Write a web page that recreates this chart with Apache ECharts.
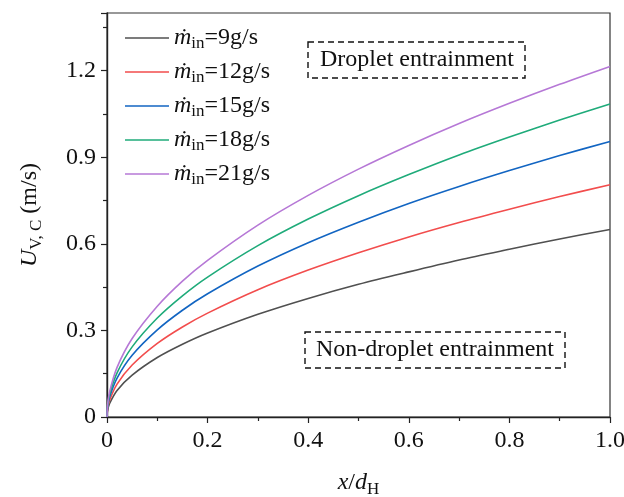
<!DOCTYPE html>
<html>
<head>
<meta charset="utf-8">
<script src="https://cdn.jsdelivr.net/npm/echarts@6/dist/echarts.min.js"></script>
<style>
  html, body { margin: 0; padding: 0; background: #fff; }
  #box_chart { width: 624px; height: 497px; }
</style>
</head>
<body>
<div id="box_chart"></div>
<script>
// x/dH sample points
var xs = [0, 0.001, 0.005, 0.02, 0.05, 0.1, 0.15, 0.2, 0.3, 0.4, 0.5, 0.6, 0.7, 0.8, 0.9, 1.0];
var flowNames = ['9', '12', '15', '18', '21'];
var u9  = [0, 0.021, 0.046, 0.092, 0.145, 0.206, 0.252, 0.291, 0.356, 0.411, 0.460, 0.503, 0.544, 0.581, 0.617, 0.650];
var u12 = [0, 0.025, 0.057, 0.114, 0.180, 0.255, 0.312, 0.360, 0.441, 0.509, 0.569, 0.624, 0.674, 0.720, 0.764, 0.805];
var u15 = [0, 0.030, 0.068, 0.135, 0.214, 0.302, 0.370, 0.427, 0.523, 0.604, 0.675, 0.740, 0.799, 0.854, 0.906, 0.955];
var u18 = [0, 0.034, 0.077, 0.153, 0.243, 0.343, 0.420, 0.485, 0.594, 0.686, 0.767, 0.840, 0.908, 0.970, 1.029, 1.085];
var u21 = [0, 0.038, 0.086, 0.172, 0.272, 0.384, 0.471, 0.543, 0.665, 0.768, 0.859, 0.941, 1.017, 1.087, 1.153, 1.215];
var colors = ['#505050', '#f24d4d', '#1265c2', '#1fab7a', '#b678d6'];

var allU = [u9, u12, u15, u18, u21];
var font = '"Liberation Serif", "Times New Roman", serif';

var myChart = echarts.init(document.getElementById('box_chart'));

var series = flowNames.map(function (name, i) {
    return {
        name: name,
        type: 'line',
        smooth: 0.3,
        showSymbol: false,
        color: colors[i],
        lineStyle: { width: 1.6, color: colors[i] },
        data: xs.map(function (x, j) { return [x, allU[i][j]]; })
    };
});

var options = {
    animation: false,
    grid: {
        left: 107,
        right: 14,
        top: 13,
        bottom: 80,
        outerBoundsMode: 'none',
        containLabel: false,
        show: true,
        borderColor: '#333',
        borderWidth: 1.2
    },
    legend: {
        orient: 'vertical',
        left: 120,
        top: 20,
        itemWidth: 44,
        itemHeight: 10,
        itemGap: 7,
        icon: 'path://M0,4.3 L44,4.3 L44,5.7 L0,5.7 Z',
        data: flowNames,
        formatter: function (name) {
            return '{m|ṁ}{s|in}{t|=' + name + 'g/s}';
        },
        textStyle: {
            fontFamily: font,
            color: '#111',
            rich: {
                m: { fontFamily: font, fontStyle: 'italic', fontSize: 24, lineHeight: 28, color: '#111' },
                s: { fontFamily: font, fontSize: 17, lineHeight: 18, color: '#111', verticalAlign: 'bottom', padding: [10, 0, 0, 0] },
                t: { fontFamily: font, fontSize: 24, lineHeight: 28, color: '#111' }
            }
        }
    },
    xAxis: {
        type: 'value',
        min: 0,
        max: 1,
        interval: 0.2,
        name: '{i|x}{n|/}{i|d}{s|H}',
        nameLocation: 'middle',
        nameGap: 50,
        nameTextStyle: {
            rich: {
                i: { fontFamily: font, fontStyle: 'italic', fontSize: 24, color: '#111' },
                n: { fontFamily: font, fontSize: 24, color: '#111' },
                s: { fontFamily: font, fontSize: 17, color: '#111', verticalAlign: 'bottom', padding: [14, 0, 0, 0] }
            }
        },
        axisLine: { lineStyle: { color: '#222', width: 1.4 } },
        axisTick: { show: true, length: 6, lineStyle: { color: '#222', width: 1.2 } },
        minorTick: { show: true, splitNumber: 2, length: 4, lineStyle: { color: '#222', width: 1.2 } },
        splitLine: { show: false },
        axisLabel: {
            fontFamily: font,
            fontSize: 24,
            color: '#111',
            margin: 12,
            formatter: function (v) { return v === 0 ? '0' : v.toFixed(1); }
        }
    },
    yAxis: {
        type: 'value',
        min: 0,
        max: 1.4,
        interval: 0.3,
        name: '{i|U}{s|V, C}{n| (m/s)}',
        nameLocation: 'middle',
        nameGap: 62,
        nameRotate: 90,
        nameTextStyle: {
            rich: {
                i: { fontFamily: font, fontStyle: 'italic', fontSize: 24, color: '#111' },
                n: { fontFamily: font, fontSize: 24, color: '#111' },
                s: { fontFamily: font, fontSize: 17, color: '#111', verticalAlign: 'bottom', padding: [14, 0, 0, 0] }
            }
        },
        axisLine: { show: true, lineStyle: { color: '#222', width: 1.4 } },
        axisTick: { show: true, length: 6, lineStyle: { color: '#222', width: 1.2 } },
        minorTick: { show: true, splitNumber: 2, length: 4, lineStyle: { color: '#222', width: 1.2 } },
        splitLine: { show: false },
        axisLabel: {
            fontFamily: font,
            fontSize: 24,
            color: '#111',
            margin: 11,
            formatter: function (v) {
                if (v > 1.3) return '';
                return v === 0 ? '0' : v.toFixed(1);
            }
        }
    },
    graphic: [
        {
            type: 'rect',
            shape: { x: 308, y: 42, width: 217, height: 36 },
            style: { fill: 'none', stroke: '#111', lineWidth: 1.4, lineDash: [6, 4] }
        },
        {
            type: 'text',
            x: 417, y: 60,
            style: { text: 'Droplet entrainment', font: '24px ' + font, fill: '#111', align: 'center', verticalAlign: 'middle' }
        },
        {
            type: 'rect',
            shape: { x: 305, y: 332, width: 260, height: 36 },
            style: { fill: 'none', stroke: '#111', lineWidth: 1.4, lineDash: [6, 4] }
        },
        {
            type: 'text',
            x: 435, y: 350,
            style: { text: 'Non-droplet entrainment', font: '24px ' + font, fill: '#111', align: 'center', verticalAlign: 'middle' }
        }
    ],
    series: series
};

myChart.setOption(options);
window.addEventListener('resize', function () {
    myChart.resize();
});
</script>
</body>
</html>
